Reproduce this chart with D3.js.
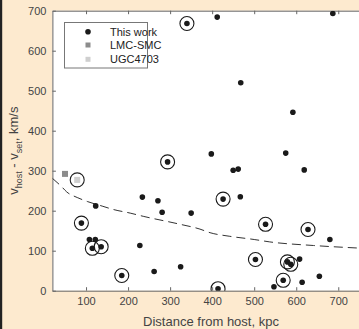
<!DOCTYPE html>
<html><head><meta charset="utf-8">
<script src="https://cdn.jsdelivr.net/npm/d3@7"></script>
<style>
html,body{margin:0;padding:0;background:#fdeacf;}
svg{display:block;font-family:"Liberation Sans",Arial,sans-serif;}
</style></head>
<body>
<svg id="chart" width="359" height="329"></svg>
<script>
// ---- data ----
const workX = [123,234,271,281,350,89,108,122,115,136,228,185,262,325,294,398,575,450,462,619,426,467,527,628,680,503,579,587,608,569,547,614,655,414,340,412,687,468,592];
const workY = [212,234,225,196,194,169,128,128,106,110,113,38,48,60,322,342,344,301,304,302,229,235,166,153,128,78,72,66,79,26,10,21,36,5,668,684,693,520,446];
const workCircled = [0,0,0,0,0,1,0,0,1,1,0,1,0,0,1,0,0,0,0,0,1,0,1,1,0,1,1,1,0,1,0,0,0,1,1,0,0,0,0];
const lmcX = [50], lmcY = [292];
const ugcX = [79], ugcY = [277];
const curveX = [20,42,54,79,103,140,165,205,236,324,371,395,442,500,537,641,760];
const curveY = [281,260,247,233,223,211,203,194,186,166,154,145,136,128,122,113,106];
const xTicks = [100,200,300,400,500,600,700];
const yTicks = [0,100,200,300,400,500,600,700];
const legendLabels = ["This work","LMC-SMC","UGC4703"];

const svg = d3.select("#chart");
const x = d3.scaleLinear().domain([20,760]).range([52.4,363.5]);
const y = d3.scaleLinear().domain([0,700]).range([290.7,10.7]);

// page background and left dark strip
svg.append("rect").attr("width",359).attr("height",329).attr("fill","#fdeacf");
svg.append("rect").attr("width",2.2).attr("height",329).attr("fill","#222");

// plot area
svg.append("rect").attr("x",x.range()[0]).attr("y",y.range()[1])
  .attr("width",x.range()[1]-x.range()[0]).attr("height",y.range()[0]-y.range()[1])
  .attr("fill","#fff");

const axisColor = "#666";
const tickLen = 3.5;
// bottom axis
const bx = svg.append("g").attr("transform",`translate(0,${y(0)})`)
  .call(d3.axisBottom(x).tickValues(xTicks).tickSizeInner(-tickLen).tickSizeOuter(0).tickPadding(7));
// top axis
const tx = svg.append("g").attr("transform",`translate(0,${y(700)})`)
  .call(d3.axisTop(x).tickValues(xTicks).tickSizeInner(-tickLen).tickSizeOuter(0).tickFormat(""));
// left axis
const ly = svg.append("g").attr("transform",`translate(${x(20)},0)`)
  .call(d3.axisLeft(y).tickValues(yTicks).tickSizeInner(-tickLen).tickSizeOuter(0).tickPadding(6));
[bx,tx,ly].forEach(g=>{
  g.select(".domain").attr("stroke",axisColor).attr("stroke-width",1);
  g.selectAll(".tick line").attr("stroke",axisColor);
  g.selectAll(".tick text").attr("fill","#444").attr("font-size","11px")
    .attr("font-family","'Liberation Sans',Arial,sans-serif");
});

// axis labels
svg.append("text").attr("x",211).attr("y",326).attr("text-anchor","middle")
  .attr("font-size","13px").attr("fill","#444").text("Distance from host, kpc");
const yl = svg.append("text").attr("transform",`translate(17.5,${(y(0)+y(700))/2}) rotate(-90)`)
  .attr("text-anchor","middle").attr("font-size","13px").attr("fill","#444");
yl.append("tspan").text("v");
yl.append("tspan").attr("font-size","9px").attr("dy","4").text("host");
yl.append("tspan").attr("dy","-4").text(" - v");
yl.append("tspan").attr("font-size","9px").attr("dy","4").text("set");
yl.append("tspan").attr("dy","-4").text(", km/s");

// clip
svg.append("clipPath").attr("id","clip").append("rect")
  .attr("x",x.range()[0]).attr("y",y.range()[1])
  .attr("width",x.range()[1]-x.range()[0]).attr("height",y.range()[0]-y.range()[1]);
const plot = svg.append("g").attr("clip-path","url(#clip)");

// dashed curve
const curvePts = curveX.map((d,i)=>[d,curveY[i]]);
plot.append("path").datum(curvePts)
  .attr("d",d3.line().x(d=>x(d[0])).y(d=>y(d[1])).curve(d3.curveMonotoneX))
  .attr("fill","none").attr("stroke","#333").attr("stroke-width",1)
  .attr("stroke-dasharray","9,5");

// LMC-SMC
plot.selectAll(".lmc").data(lmcX).enter().append("rect")
  .attr("x",(d)=>x(d)-3).attr("y",(d,i)=>y(lmcY[i])-3).attr("width",6).attr("height",6)
  .attr("fill","#8c8c8c");
// UGC4703
plot.selectAll(".ugc").data(ugcX).enter().append("rect")
  .attr("x",(d)=>x(d)-3).attr("y",(d,i)=>y(ugcY[i])-3).attr("width",6).attr("height",6)
  .attr("fill","#cfcfcf");
plot.selectAll(".ugcc").data(ugcX).enter().append("circle")
  .attr("cx",d=>x(d)).attr("cy",(d,i)=>y(ugcY[i])).attr("r",7)
  .attr("fill","none").attr("stroke","#222").attr("stroke-width",1.1);

// This work
const work = workX.map((d,i)=>({x:d,y:workY[i],c:workCircled[i]}));
plot.selectAll(".ring").data(work.filter(d=>d.c)).enter().append("circle")
  .attr("cx",d=>x(d.x)).attr("cy",d=>y(d.y)).attr("r",7)
  .attr("fill","none").attr("stroke","#1a1a1a").attr("stroke-width",1.1);
plot.selectAll(".dot").data(work).enter().append("circle")
  .attr("cx",d=>x(d.x)).attr("cy",d=>y(d.y)).attr("r",2.8).attr("fill","#1a1a1a");

// legend
const lg = svg.append("g");
lg.append("rect").attr("x",64.5).attr("y",22.5).attr("width",83).attr("height",45.5)
  .attr("fill","#fff").attr("stroke","#777").attr("stroke-width",1);
const rowsY = [31.7,45,59.3];
lg.append("circle").attr("cx",88).attr("cy",rowsY[0]).attr("r",2.8).attr("fill","#1a1a1a");
lg.append("rect").attr("x",85.5).attr("y",rowsY[1]-2.5).attr("width",5).attr("height",5).attr("fill","#8c8c8c");
lg.append("rect").attr("x",85.5).attr("y",rowsY[2]-2.5).attr("width",5).attr("height",5).attr("fill","#cfcfcf");
lg.selectAll(".lt").data(legendLabels).enter().append("text")
  .attr("x",110).attr("y",(d,i)=>rowsY[i]+4).attr("font-size","11px").attr("fill","#222").text(d=>d);
</script>
</body></html>
